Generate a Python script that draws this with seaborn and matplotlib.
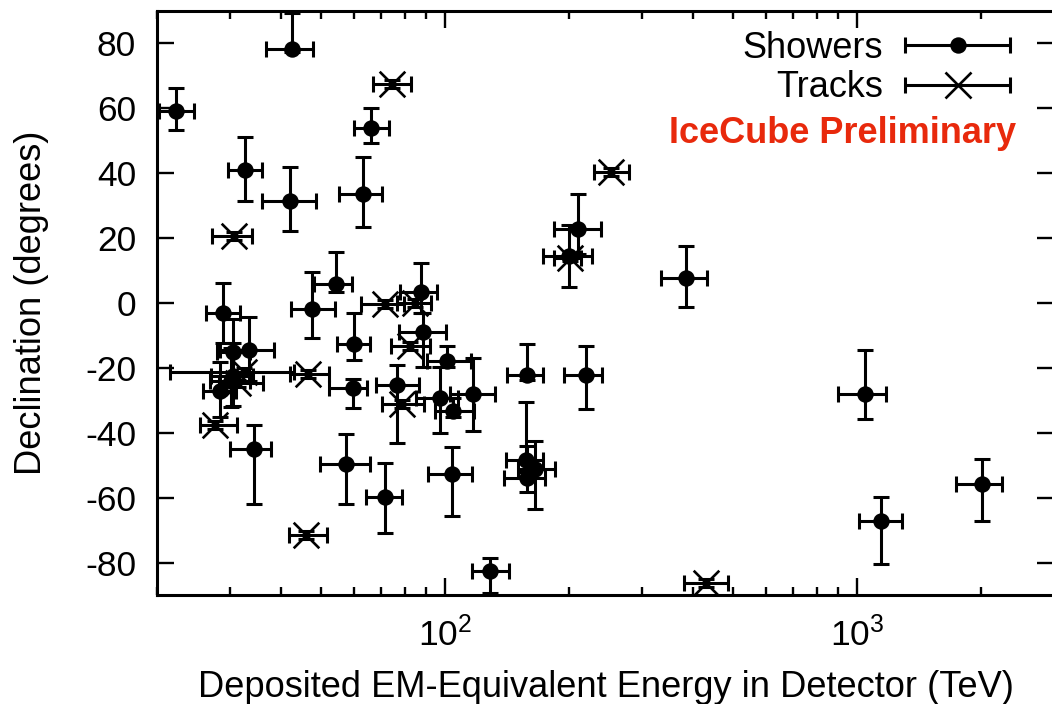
import numpy as np
import pandas as pd
import matplotlib
matplotlib.use("Agg")
import matplotlib.pyplot as plt
import seaborn as sns
from matplotlib.container import ErrorbarContainer
from matplotlib.legend_handler import HandlerErrorbar
from matplotlib.lines import Line2D
from matplotlib.ticker import NullFormatter, FixedLocator

# ---- Shower-like events: deposited energy (TeV) and declination (deg) ----
shower_energy = [47.6, 117, 165, 28.4, 34.3, 63.2, 97.2, 88.4, 104, 1041,
                 57.5, 30.6, 200, 71.5, 1141, 30.2, 220, 30.5, 33.5, 210,
                 60.2, 32.7, 128.6, 42.5, 385, 42.1, 2004, 28.9, 101.3, 157.3,
                 87.6, 76.3, 158.0, 104.7, 59.9, 22.2, 66.2, 158.1, 54.5]
shower_energy_lo = [5.4, 14, 15, 2.5, 4.3, 8.0, 12.4, 11.0, 13, 145,
                    7.9, 3.5, 27, 7.3, 133, 3.3, 25.5, 2.6, 5.0, 26.7,
                    5.6, 2.9, 12.5, 5.7, 51, 6.2, 270, 2.6, 10.7, 16.9,
                    10.0, 8.4, 16.8, 10.0, 7.6, 2.0, 6.2, 19.0, 6.3]
shower_energy_hi = [6.5, 15.5, 20, 2.7, 3.5, 7.1, 10.4, 12.0, 12.5, 133,
                    8.1, 3.6, 27, 7.0, 143, 3.5, 20.3, 3.2, 4.9, 29,
                    5.6, 3.2, 14, 5.4, 46, 6.5, 235, 2.9, 14.2, 15.1,
                    8.2, 10.2, 15.0, 12.9, 4.8, 2.4, 6.8, 16.6, 5.0]
shower_dec = [-1.8, -27.9, -51.2, -27.2, -45.1, 33.6, -29.4, -8.9, -52.8, -27.9,
              -49.7, -22.6, 14.5, -59.7, -67.2, -24.0, -22.1, -15.1, -14.5, 22.7,
              -12.6, 41.0, -82.7, 78.3, 7.8, 31.3, -55.8, -3.0, -17.9, -48.5,
              3.3, -25.3, -22.3, -33.2, -26.3, 59.3, 54.0, -54.0, 6.0]
shower_dec_lo = [9.0, 11.6, 12.3, 8.0, 16.8, 10.3, 10.8, 10.7, 13.0, 7.8,
                 12.2, 9.3, 9.7, 11.3, 13.2, 8.0, 10.7, 10.0, 9.5, 7.7,
                 5.0, 9.6, 6.8, 1.0, 9.1, 9.0, 11.4, 9.4, 1.7, 3.5,
                 6.5, 17.9, 1.4, 2.0, 6.1, 6.0, 4.6, 4.2, 2.7]
shower_dec_hi = [11.3, 10.9, 8.7, 9.0, 7.6, 11.5, 9.8, 5.8, 8.5, 13.4,
                 9.3, 10.2, 9.5, 10.5, 7.3, 10.0, 8.9, 10.1, 10.3, 10.9,
                 9.6, 10.2, 4.2, 11.1, 9.8, 10.5, 7.6, 9.1, 4.5, 18.0,
                 8.9, 6.2, 9.7, 4.0, 2.8, 7.1, 6.2, 10.0, 9.6]

# ---- Track-like events ----
track_energy = [78.7, 71.4, 32.6, 253, 31.5, 82.2, 46.1, 30.8, 200.5, 46.5,
                84.6, 429.9, 74.3, 27.6]
track_energy_lo = [8.5, 9.0, 11.1, 23, 3.3, 8.4, 4.4, 3.6, 16.5, 4.5,
                   8.0, 50, 7.5, 2.2]
track_energy_hi = [10.2, 8.0, 10.3, 26, 4.6, 9.5, 5.7, 3.2, 13.5, 5.8,
                   7.7, 57, 8.4, 3.7]
track_dec = [-31.2, -0.4, -21.2, 40.3, -24.8, -13.2, -71.5, 20.7, 14.0, -22.0,
             0.0, -86.3, 67.4, -37.7]
track_dec_err = [1.2, 1.2, 1.2, 1.2, 1.2, 1.2, 1.2, 1.2, 1.2, 1.2,
                 1.2, 1.2, 1.2, 1.2]

y_ticks = [-80, -60, -40, -20, 0, 20, 40, 60, 80]

showers = pd.DataFrame({"energy": shower_energy, "dec": shower_dec})
tracks = pd.DataFrame({"energy": track_energy, "dec": track_dec})

sns.set_theme(style="ticks")
plt.rcParams["font.family"] = ["Liberation Sans", "DejaVu Sans"]
plt.rcParams["axes.unicode_minus"] = False
plt.rcParams["text.color"] = "black"
plt.rcParams["axes.labelcolor"] = "black"
plt.rcParams["axes.edgecolor"] = "black"
plt.rcParams["axes.linewidth"] = 2.2
for k in ("xtick.major.width", "ytick.major.width",
          "xtick.minor.width", "ytick.minor.width"):
    plt.rcParams[k] = 1.7

fig = plt.figure(figsize=(10.52, 7.04), dpi=100)
ax = fig.add_axes([157 / 1052, 1 - 595 / 704, 897 / 1052, 584 / 704])

err_style = dict(fmt="none", ecolor="black", elinewidth=2.2,
                 capsize=5.6, capthick=2.2, zorder=2)

sh_err = ax.errorbar(showers["energy"], showers["dec"],
                     xerr=[shower_energy_lo, shower_energy_hi],
                     yerr=[shower_dec_lo, shower_dec_hi], **err_style)
tr_err = ax.errorbar(tracks["energy"], tracks["dec"],
                     xerr=[track_energy_lo, track_energy_hi],
                     yerr=[track_dec_err, track_dec_err], **err_style)

sns.scatterplot(data=showers, x="energy", y="dec", ax=ax, marker="o",
                color="black", s=140, linewidth=0, zorder=3, legend=False)
sns.scatterplot(data=tracks, x="energy", y="dec", ax=ax, marker="x",
                color="black", s=340, linewidth=1.9, zorder=3, legend=False)

ax.set_xscale("log")
ax.set_xlim(20, 3000)
ax.set_ylim(-90, 90)
ax.yaxis.set_major_locator(FixedLocator(y_ticks))
ax.xaxis.set_minor_formatter(NullFormatter())

ax.tick_params(which="both", direction="in", top=True, right=True,
               labelsize=25.5, colors="black")
ax.tick_params(which="major", length=12)
ax.tick_params(which="minor", length=6)
ax.tick_params(axis="y", which="major", pad=15)
ax.tick_params(axis="x", which="major", pad=15)

ax.set_xlabel("Deposited EM-Equivalent Energy in Detector (TeV)",
              fontsize=26.1, labelpad=13)
ax.set_ylabel("Declination (degrees)", fontsize=26.1, labelpad=26)


def legend_entry(container, marker, size, edge):
    proxy = Line2D([], [], linestyle="none", marker=marker, color="black",
                   markersize=size, markeredgewidth=edge)
    return ErrorbarContainer((proxy, container.lines[1], container.lines[2]),
                             has_xerr=True, has_yerr=False)


handles = [legend_entry(sh_err, "o", 11.8, 0.0),
           legend_entry(tr_err, "x", 18.5, 1.9)]
ax.legend(handles=handles, labels=["Showers", "Tracks"],
          loc="upper right", bbox_to_anchor=(0.951, 0.966),
          markerfirst=False, frameon=False, fontsize=26,
          handlelength=2.9, handletextpad=0.62, labelspacing=0.12,
          borderpad=0, borderaxespad=0, labelcolor="black",
          handler_map={ErrorbarContainer: HandlerErrorbar(xerr_size=1.45)})

ax.text(0.9576, 0.791, "IceCube Preliminary", transform=ax.transAxes,
        ha="right", va="center", color="#e8290c", fontsize=26,
        fontweight="bold")

fig.savefig("out.png", dpi=100)
